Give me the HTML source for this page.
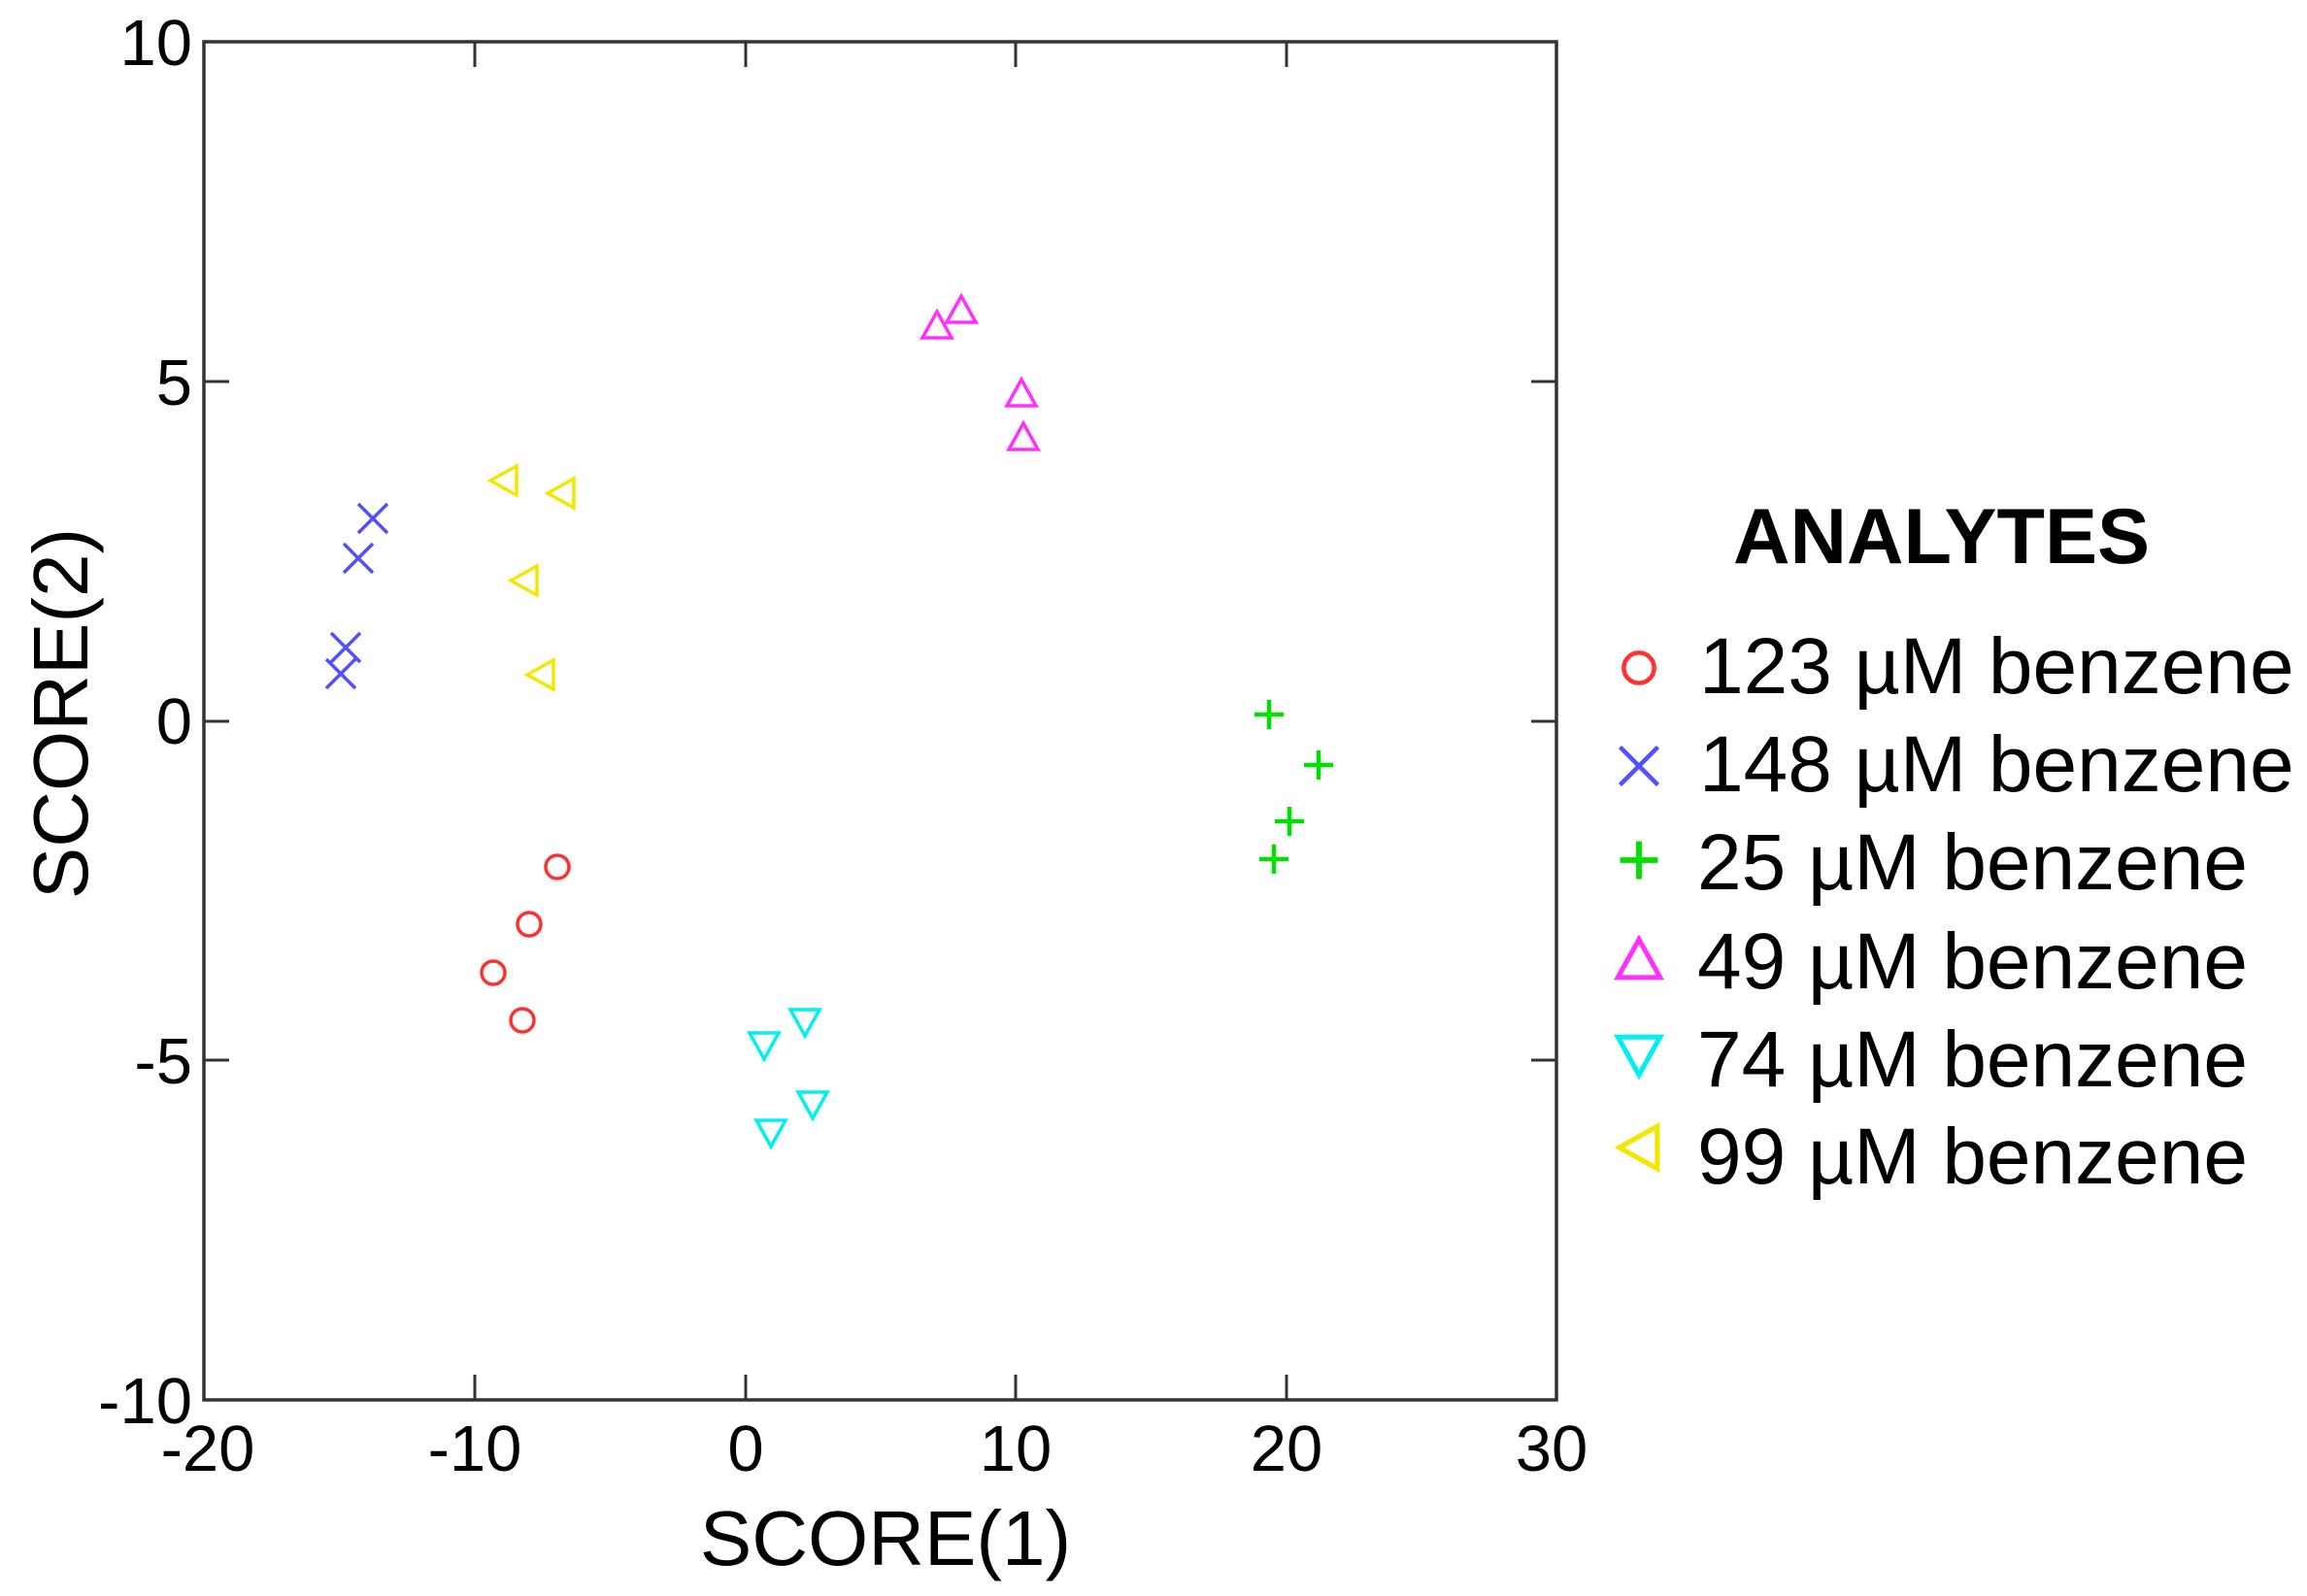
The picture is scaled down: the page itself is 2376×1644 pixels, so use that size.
<!DOCTYPE html>
<html><head><meta charset="utf-8"><style>
html,body{margin:0;padding:0;background:#fff;}
svg{display:block;}
text{font-family:"Liberation Sans",Arial,sans-serif;fill:#000;}
</style></head><body>
<svg width="2376" height="1644" viewBox="0 0 2376 1644" xmlns="http://www.w3.org/2000/svg">
<defs>
<g id="circ"><circle cx="0" cy="0" r="12" fill="none" stroke="#ff3030" stroke-width="3.5"/></g>
<g id="xm"><path d="M-15,-15L15,15M-15,15L15,-15" stroke="#5050ff" stroke-width="3.5" fill="none"/></g>
<g id="pl"><path d="M-15,0H15M0,-15V15" stroke="#00e000" stroke-width="4.5" fill="none"/></g>
<g id="tu"><path d="M0,-14L15,13H-15Z" stroke="#ff30ff" stroke-width="3.5" fill="none"/></g>
<g id="td"><path d="M0,14L15,-13H-15Z" stroke="#00f0f0" stroke-width="3.5" fill="none"/></g>
<g id="tl"><path d="M-14,0L13,-15V15Z" stroke="#f5e600" stroke-width="3.5" fill="none"/></g>
</defs>
<rect x="210" y="43" width="1393" height="1399" fill="none" stroke="#333" stroke-width="3.5"/>
<g stroke="#333" stroke-width="3">
<path d="M489,1442v-26M768,1442v-26M1046,1442v-26M1325,1442v-26"/>
<path d="M489,43v26M768,43v26M1046,43v26M1325,43v26"/>
<path d="M210,393h26M210,743h26M210,1092h26"/>
<path d="M1603,393h-26M1603,743h-26M1603,1092h-26"/>
</g>
<g font-size="67" text-anchor="end">
<text x="198" y="67">10</text>
<text x="198" y="417">5</text>
<text x="198" y="766">0</text>
<text x="198" y="1116">-5</text>
<text x="198" y="1466">-10</text>
</g>
<g font-size="67" text-anchor="middle">
<text x="214" y="1515">-20</text>
<text x="489" y="1515">-10</text>
<text x="768" y="1515">0</text>
<text x="1046" y="1515">10</text>
<text x="1325" y="1515">20</text>
<text x="1598" y="1515">30</text>
</g>
<text x="912" y="1612" font-size="80" text-anchor="middle">SCORE(1)</text>
<text transform="translate(90,735) rotate(-90)" font-size="80" text-anchor="middle">SCORE(2)</text>
<use href="#circ" x="574" y="893"/><use href="#circ" x="545" y="952"/><use href="#circ" x="508" y="1002"/><use href="#circ" x="538" y="1051"/>
<use href="#xm" x="384" y="534"/><use href="#xm" x="369" y="575"/><use href="#xm" x="356" y="667"/><use href="#xm" x="351" y="694"/>
<use href="#tl" x="519" y="495"/><use href="#tl" x="578" y="508"/><use href="#tl" x="540" y="598"/><use href="#tl" x="557" y="695"/>
<use href="#tu" x="965" y="335"/><use href="#tu" x="990" y="319"/><use href="#tu" x="1052" y="405"/><use href="#tu" x="1054" y="450"/>
<use href="#pl" x="1307" y="736"/><use href="#pl" x="1358" y="788"/><use href="#pl" x="1328" y="846"/><use href="#pl" x="1312" y="885"/>
<use href="#td" x="787" y="1077"/><use href="#td" x="829" y="1053"/><use href="#td" x="794" y="1167"/><use href="#td" x="837" y="1138"/>
<text x="1785" y="580" font-size="81" font-weight="bold">ANALYTES</text>
<g transform="translate(1688,688) scale(1.3)"><use href="#circ"/></g>
<g transform="translate(1688,789) scale(1.3)"><use href="#xm"/></g>
<g transform="translate(1688,886) scale(1.3)"><use href="#pl"/></g>
<g transform="translate(1688,988) scale(1.45)"><use href="#tu"/></g>
<g transform="translate(1688,1087) scale(1.45)"><use href="#td"/></g>
<g transform="translate(1688,1182) scale(1.45)"><use href="#tl"/></g>
<g font-size="82">
<text x="1750" y="714">123 µM benzene</text>
<text x="1750" y="815">148 µM benzene</text>
<text x="1748" y="916">25 µM benzene</text>
<text x="1748" y="1018">49 µM benzene</text>
<text x="1748" y="1119">74 µM benzene</text>
<text x="1748" y="1219">99 µM benzene</text>
</g>
</svg>
</body></html>
